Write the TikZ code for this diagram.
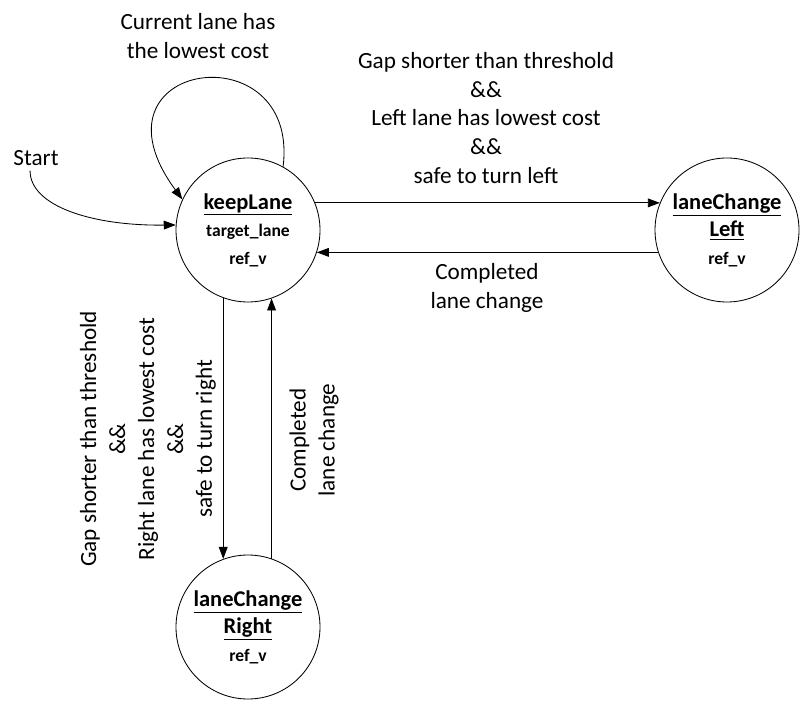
\documentclass[tikz,border=0pt]{standalone}
\usepackage{fontspec}
\setmainfont{Carlito}
\usetikzlibrary{arrows.meta}

\begin{document}
\begin{tikzpicture}[
    state/.style={draw, circle, minimum size=3.6cm, inner sep=0pt, align=center,
                  font=\fontsize{12.5}{19.5}\selectfont\bfseries},
    cond/.style={align=center, font=\fontsize{16.5}{20.6}\selectfont},
    trans/.style={-{Triangle[length=3mm, width=2.2mm]}},
    line width=0.6pt]
    \useasboundingbox (-6.2,5.75) rectangle (13.9,-11.925);
    \node[state] (keep)  at (0, 0)        {{\fontsize{16}{19.5}\selectfont\underline{keepLane}}\\target\_lane\\ref\_v};
    \node[state] (left)  at (11.975, 0)   {{\fontsize{16}{19.5}\selectfont\underline{laneChange}}\\{\fontsize{16}{19.5}\selectfont\underline{Left}}\\ref\_v};
    \node[state] (right) at (0, -9.925)   {{\fontsize{16}{19.5}\selectfont\underline{laneChange}}\\{\fontsize{16}{19.5}\selectfont\underline{Right}}\\ref\_v};

    \node[cond] (start) at (-5.3, 1.8)    {Start};
    \node[cond] (stay)  at (-1.25, 4.85)  {Current lane has\\the lowest cost};
    \node[cond] (toleft) at (5.95, 2.8)   {Gap shorter than threshold\\\&\&\\Left lane has lowest cost\\\&\&\\safe to turn left};
    \node[cond] (backleft) at (5.975, -1.45) {Completed\\lane change};
    \node[cond, rotate=90] (toright) at (-2.5, -5.225) {Gap shorter than threshold\\\&\&\\Right lane has lowest cost\\\&\&\\safe to turn right};
    \node[cond, rotate=90] (backright) at (1.65, -5.25) {Completed\\lane change};

    % transitions
    \draw[trans] (start.-115) .. controls (-5.45, 0.6) and (-3.9, 0.1) .. (keep.176);
    \draw[trans] (keep.61) .. controls (1.3, 5.0) and (-4.2, 4.25) .. (keep.155);
    \foreach \a/\b in {keep.22/left.158, left.198/keep.-18, keep.250/right.110, right.71/keep.289}
        \draw[trans] (\a) -- (\b);
\end{tikzpicture}
\end{document}
